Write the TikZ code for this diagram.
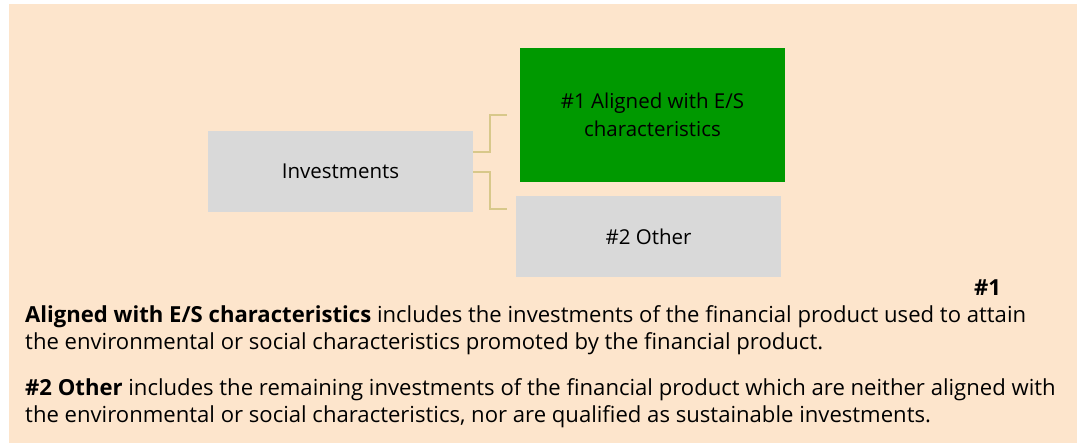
\documentclass[tikz,border=0pt]{standalone}
\usepackage{fontspec}
\setmainfont{Open Sans}
\definecolor{peach}{HTML}{FDE5CC}
\definecolor{boxgray}{HTML}{D9D9D9}
\definecolor{boxgreen}{HTML}{009900}
\definecolor{tan}{HTML}{D8C88A}
\tikzset{
  box/.style={draw=none, inner sep=0pt, align=center, font=\fontsize{20.5}{28}\selectfont},
  link/.style={draw=tan, line width=2pt},
  para/.style={anchor=base west, inner sep=0pt, align=left, font=\fontsize{22.1}{27}\selectfont}
}
\begin{document}
\begin{tikzpicture}[x=1pt,y=-1pt]
\useasboundingbox (0,0) rectangle (1077,443);
\fill[white] (0,0) rectangle (1077,443);
\fill[peach] (9,4) rectangle (1077,443);
\node[box, fill=boxgray, minimum width=265pt, minimum height=81pt] (inv) at (340.5,171.5) {Investments};
\node[box, fill=boxgreen, minimum width=265pt, minimum height=134pt] (al) at (652.5,115) {\#1 Aligned with E/S\\characteristics};
\node[box, fill=boxgray, minimum width=265pt, minimum height=81pt] (oth) at (648.5,236.5) {\#2 Other};
\coordinate (a1) at (507,115);
\coordinate (a2) at (507,209);
\draw[link] (inv.east |- 0,152) -| (490,115) -- (a1);
\draw[link] (inv.east |- 0,172) -| (490,209) -- (a2);
\node[para, font=\fontsize{22.1}{27}\bfseries\selectfont] (h1) at (974,296) {\#1};
\node[para] (p1) at (25,350) {\textbf{Aligned with E/S characteristics} includes the investments of the financial product used to attain\\the environmental or social characteristics promoted by the financial product.};
\node[para] (p2) at (25,423) {\textbf{\#2 Other} includes the remaining investments of the financial product which are neither aligned with\\the environmental or social characteristics, nor are qualified as sustainable investments.};
\end{tikzpicture}
\end{document}
